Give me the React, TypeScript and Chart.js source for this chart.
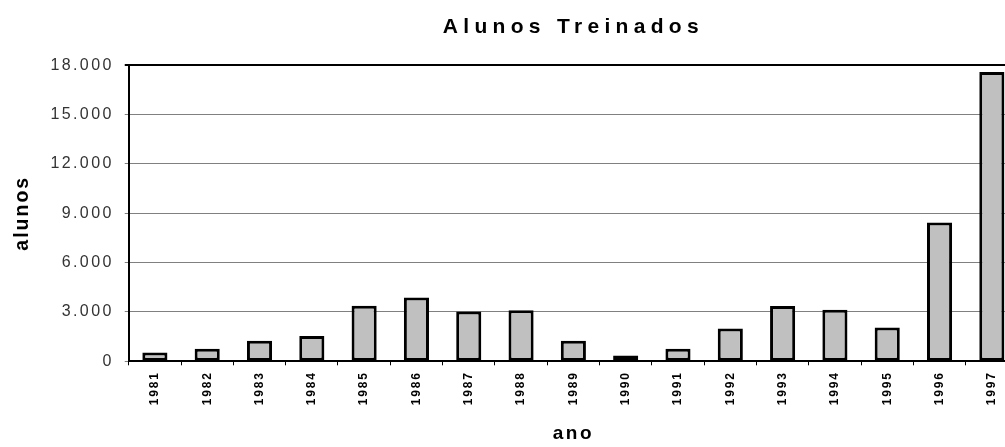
import React, { useEffect, useRef } from "react";
import { Chart, registerables } from "chart.js";

Chart.register(...registerables);

const years = ["1981", "1982", "1983", "1984", "1985", "1986", "1987", "1988", "1989", "1990", "1991", "1992", "1993", "1994", "1995", "1996", "1997"];
const alunos = [530, 760, 1250, 1540, 3380, 3880, 3020, 3100, 1250, 360, 760, 1990, 3360, 3140, 2050, 8440, 17590];
const yTicks = [0, 3000, 6000, 9000, 12000, 15000, 18000];

const FONT = "'Liberation Sans', Arial, sans-serif";

// letter spacing per font size (px)
const spacingBySize: Record<string, string> = {
  "21": "5.3px",
  "19.5": "2px",
  "19": "2.5px",
  "16": "2.4px",
  "12": "1.8px",
};

function fmt(v: number) {
  return String(v).replace(/\B(?=(\d{3})+(?!\d))/g, ".");
}

const borderPlugin = {
  id: "plotBorder",
  afterDraw(chart: any) {
    const { ctx, chartArea } = chart;
    ctx.save();
    ctx.strokeStyle = "#000";
    ctx.lineWidth = 2;
    ctx.beginPath();
    ctx.moveTo(chartArea.right, chartArea.top);
    ctx.lineTo(chartArea.right, chartArea.bottom);
    ctx.stroke();
    ctx.restore();
  },
};

export default function App() {
  const ref = useRef<HTMLCanvasElement | null>(null);
  useEffect(() => {
    const canvas = ref.current!;
    const ctx = canvas.getContext("2d")!;
    const desc = Object.getOwnPropertyDescriptor(CanvasRenderingContext2D.prototype, "font")!;
    Object.defineProperty(ctx, "font", {
      configurable: true,
      get() {
        return desc.get!.call(this);
      },
      set(v: string) {
        desc.set!.call(this, v);
        const m = /(\d+(?:\.\d+)?)px/.exec(v);
        const sp = m ? spacingBySize[m[1]] : undefined;
        (this as any).letterSpacing = sp || "0px";
      },
    });
    const chart = new Chart(ctx, {
      type: "bar",
      data: {
        labels: years,
        datasets: [
          {
            data: alunos,
            backgroundColor: "#c0c0c0",
            borderColor: "#000",
            borderWidth: 3,
            borderSkipped: false,
            barPercentage: 0.48,
            categoryPercentage: 1,
          },
        ],
      },
      options: {
        responsive: true,
        maintainAspectRatio: false,
        animation: false,
        layout: { padding: { left: 0, right: 4, top: 0, bottom: 0 } },
        plugins: {
          legend: { display: false },
          tooltip: { enabled: false },
          title: {
            display: true,
            text: "Alunos Treinados",
            color: "#000",
            fullSize: false,
            font: { family: FONT, size: 21, weight: "bold" },
            padding: { top: 15, bottom: 25 },
          },
        },
        scales: {
          x: {
            grid: { display: true, drawOnChartArea: false, drawTicks: true, tickLength: 4, color: "#000", lineWidth: 1, offset: true },
            border: { display: true, color: "#000", width: 2 },
            ticks: {
              color: "#000",
              font: { family: FONT, size: 12, weight: "bold" },
              maxRotation: 90,
              minRotation: 90,
              padding: 6,
              autoSkip: false,
            },
            title: {
              display: true,
              text: "ano",
              color: "#000",
              font: { family: FONT, size: 19, weight: "bold" },
              padding: { top: 11, bottom: 2 },
            },
          },
          y: {
            min: 0,
            max: 18000,
            afterBuildTicks: (axis: any) => {
              axis.ticks = yTicks.map((v) => ({ value: v }));
            },
            ticks: {
              color: "#333",
              font: { family: FONT, size: 16 },
              padding: 11,
              callback: (v: any) => fmt(Number(v)),
            },
            grid: {
              color: (c: any) => (c.tick && c.tick.value === 18000 ? "#000" : "#808080"),
              lineWidth: (c: any) => (c.tick && c.tick.value === 18000 ? 2 : 1),
              tickLength: 4,
              drawTicks: true,
            },
            border: { display: true, color: "#000", width: 2 },
            title: {
              display: true,
              text: "alunos",
              color: "#000",
              font: { family: FONT, size: 19.5, weight: "bold" },
              padding: { top: 11, bottom: 5 },
            },
          },
        },
      },
      plugins: [borderPlugin],
    } as any);
    return () => chart.destroy();
  }, []);
  return (
    <div style={{ position: "fixed", left: 0, top: 0, width: 1005, height: 447, overflow: "hidden" }}>
      <div style={{ position: "absolute", left: 0, top: 0, width: 1022, height: 447 }}>
        <canvas ref={ref} />
      </div>
    </div>
  );
}
